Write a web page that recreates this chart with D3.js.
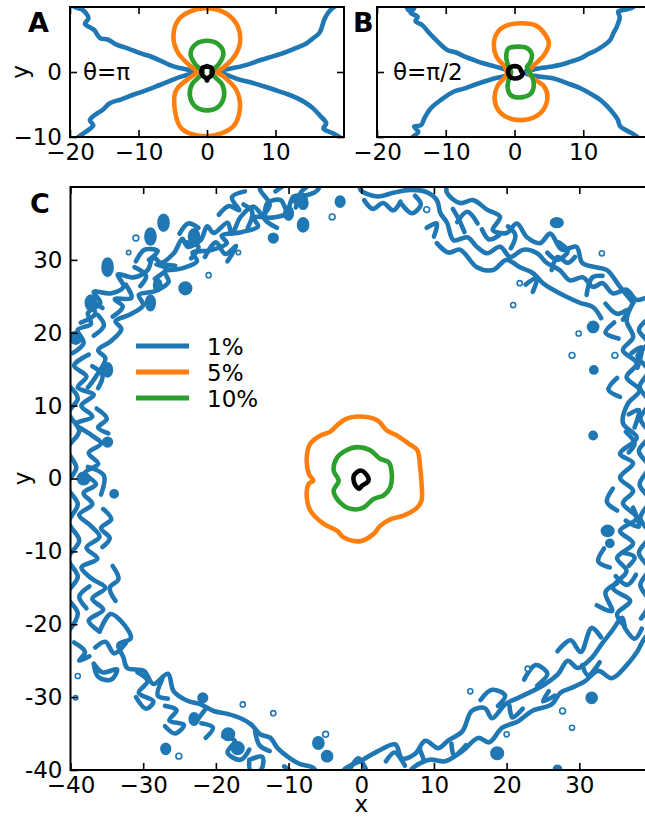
<!DOCTYPE html>
<html>
<head>
<meta charset="utf-8">
<script src="https://cdn.jsdelivr.net/npm/d3@7"></script>
<style>
  body { margin: 0; background: #fff; }
  svg { font-family: "DejaVu Sans", sans-serif; }
</style>
</head>
<body>
<svg id="fig" width="645" height="817"></svg>
<script>
// ---- data (data units) ----
var levelNames = ["1%", "5%", "10%"];
var levelColors = ["#1f77b4", "#ff7f0e", "#2ca02c"];

var ticksAB = [-20, -10, 0, 10];
var ticksAy = [-10, 0];
var ticksC = [-40, -30, -20, -10, 0, 10, 20, 30];

// panel A, theta = pi
var aBlue = [
  [[-20.5,10.6],[-18.8,9.8],[-18.2,9.6],[-17.3,8.3],[-17.8,7.4],[-16.5,6.5],[-15.6,5.2],[-14.5,5],[-13.2,4.2],[-11.5,3.6],[-9.8,2.9],[-8.5,2.5],[-6.9,1.8],[-5.5,1.1],[-4,0.6],[-2.5,0.3],[-1.5,0.05],[-2.5,-0.3],[-4,-0.8],[-5.5,-1.4],[-6.9,-2],[-8.8,-2.8],[-10.8,-3.5],[-12.5,-4.2],[-14.2,-4.8],[-15.2,-5.8],[-16.1,-6.4],[-17.1,-7.4],[-16.6,-8.2],[-17.3,-8.9],[-18.8,-10],[-19.6,-10.8]],
  [[19.5,10.6],[18.3,9.8],[17.6,9],[17.1,8],[16.8,7],[16.4,6],[15.5,5.2],[14.5,4.4],[13,3.7],[11.6,3.1],[9.6,2.4],[7.7,1.8],[5.8,1.1],[3.8,0.6],[2.4,0.3],[1.6,0.05],[2.4,-0.25],[3.5,-0.7],[4.8,-1.2],[6.7,-1.7],[8.6,-2.3],[10.3,-2.9],[12,-3.5],[13.3,-4.1],[14.5,-4.8],[15.5,-5.6],[16.4,-6.6],[17.4,-7.9],[17,-8.7],[18.3,-9.4],[19.3,-10],[20,-10.6]]
];
var aOrange = [[0,9.8],[2.8,9],[4.5,7],[4.8,4.4],[4,2.4],[2.3,0.6],[1.4,0],[2.3,-0.6],[4.3,-2.8],[4.8,-5.7],[3.8,-8.4],[0,-9.9],[-3.7,-8.7],[-4.7,-5.8],[-4.5,-2.8],[-2,-0.5],[-1.4,0],[-2.3,0.8],[-4.2,2.9],[-4.9,5.4],[-4.2,8],[-2.5,9.3]];
var aGreen = [[0,4.8],[1.6,4.3],[2.4,2.9],[1.8,1.3],[0.8,0.3],[0.6,0],[1.1,-0.7],[2.2,-1.9],[2.5,-3.6],[1.7,-5.3],[0,-5.9],[-1.7,-5.3],[-2.5,-3.6],[-2.2,-1.9],[-1.1,-0.7],[-0.6,0],[-0.8,0.3],[-1.8,1.3],[-2.4,2.9],[-1.6,4.3]];
var aBlack = [[0,0.9],[0.65,0.65],[0.85,0],[0.6,-0.6],[0.15,-0.95],[0,-1.3],[-0.15,-0.95],[-0.6,-0.6],[-0.85,0],[-0.65,0.65]];

// panel B, theta = pi/2
var bBlue = [
  [[-15.8,10.6],[-15.4,9.5],[-14.6,9.8],[-15.1,9.1],[-14.1,8.5],[-14.4,7.8],[-13.4,7.2],[-12.4,6],[-11.2,4.7],[-9.8,3.4],[-8.5,3],[-7.3,2.4],[-5.8,1.8],[-4.4,1.3],[-3,0.9],[-2,0.6],[-0.8,0.2],[-0.5,0],[-0.8,-0.4],[-3,-1],[-4.5,-1.5],[-5.9,-2],[-7.5,-2.6],[-8.8,-3],[-10.7,-4.3],[-12.2,-5.6],[-13.1,-7.1],[-13.6,-8.2],[-14.6,-8.4],[-14,-9.2],[-14.8,-10],[-15.2,-10.6]],
  [[17.6,10.6],[17.3,10],[16.2,9.6],[15.1,9.3],[15.3,8.4],[14.9,7],[14.4,6],[13.9,4.9],[12,3.4],[10.8,2.8],[9.6,2.1],[8.2,1.6],[6.7,1.1],[5.2,0.8],[3.8,0.6],[2.6,0.35],[1.8,0.2],[1.5,0],[1.8,-0.3],[3.5,-0.7],[5.7,-1],[7.6,-1.7],[9.6,-2.5],[11,-3.3],[12.5,-4.3],[13.5,-5.3],[14.4,-6.4],[15,-7.3],[15.4,-8.4],[16.5,-9.1],[17.5,-9.7],[18.5,-10.6]]
];
var bOrange = [[0.9,7.5],[3,7.2],[4.3,6],[5,4.4],[4.3,2.6],[2.8,1],[2.1,0],[2.8,-1],[4.3,-2.2],[4.8,-3.8],[4.2,-5.8],[2.8,-7],[0.9,-7.4],[-1,-7],[-2.4,-5.8],[-2.9,-3.8],[-2.4,-2],[-1.3,-0.7],[-1.1,0],[-1.4,0.8],[-2.6,2.3],[-3,4.4],[-2.4,6.2],[-1,7.2]];
var bGreen = [[-0.9,3.6],[0.5,3.9],[1.8,3.7],[2.5,2.8],[2.3,1.5],[1.8,0.8],[2,0.3],[2.6,-0.8],[2.8,-2.2],[2.4,-3.3],[1,-3.9],[-0.5,-3.6],[-1,-2.4],[-0.8,-1],[-0.5,0],[-1,1.2],[-1.2,2.5]];
var bBlack = [[0,0.9],[0.7,0.7],[1,0.1],[1.2,-0.3],[0.8,-0.8],[0,-1],[-0.7,-0.7],[-0.95,0],[-0.7,0.65]];

// panel C, all orientations
var cOrange = [[-0.6,8.5],[2.2,8],[3.5,6.6],[4.9,5.9],[6.5,4.8],[7.7,3.9],[8.1,1.6],[8.3,-0.7],[8.3,-3],[7.7,-4],[5.8,-5.1],[4,-5.6],[2.6,-6.5],[1.7,-7.6],[-0.1,-8.6],[-2.4,-8.1],[-3.3,-7.2],[-5.2,-6.2],[-7,-4.4],[-7.5,-2.6],[-7.2,-0.7],[-6.6,-0.3],[-7.2,0.6],[-7.5,2.9],[-7,4.8],[-5.6,5.9],[-4.3,6.4],[-3.1,7.5],[-2,8.2]];
var cGreen = [[-0.6,4.3],[1.2,3.9],[2.6,2.7],[3.8,2.2],[4.2,0.6],[4,-1.2],[3.1,-2.3],[1.7,-2.8],[0.3,-4],[-1.3,-4.2],[-2.9,-3.3],[-3.8,-1.7],[-3.1,-0.3],[-3.8,1.1],[-3.3,2.9],[-2,3.9]];
var cBlack = [[-0.1,1.1],[0.8,0.4],[1,-0.3],[0.1,-1],[-0.3,-1.4],[-0.6,-1.2],[-1,-0.5],[-1,0.4]];

var ringTopLeft = [
  [[-39.7,17.2],[-38.2,18.6],[-39,20.4],[-37.2,21.2],[-37.6,22.7],[-35.9,24.1],[-36.8,25.6],[-34.5,25.4],[-32.7,26.3],[-33.5,28],[-31.3,27.6],[-29.4,28.6],[-28.6,30.4],[-27.6,29.6],[-25.8,30.9],[-24.6,32.9],[-23.9,31.8],[-22.1,32.7],[-21.2,34.6],[-20.3,33.7],[-18.4,35.1],[-17.8,33.6],[-16.6,35.9],[-14.8,37.3],[-13.5,36.1],[-12.9,37.8],[-11.1,38.2],[-10.2,36.8],[-9.3,38.7],[-7.4,38.9],[-6,39.6],[-5.5,41]],
  [[-37.6,12.5],[-36.5,14],[-35.2,16.5],[-36.2,17.6],[-34.5,18.8],[-33,20.5],[-33.8,21.6],[-31.8,22.5],[-30,23.8],[-30.6,25.2],[-28.4,25.7],[-26.5,27],[-27,28.4],[-24.8,28.8],[-22.6,29.8],[-23.2,31],[-20.8,31.3],[-18.5,32.3],[-19.2,33.3],[-16.5,33.8],[-14.2,34.6],[-14.8,35.8],[-12.3,35.8],[-10,36.3]],
  [[-34.2,22.2],[-32.8,23.6],[-33.9,24.6],[-31.6,24.8],[-32.4,26.6]],
  [[-28.4,27.4],[-26.8,28.8],[-28.2,29.4],[-25.6,29.2]],
  [[-21.5,30.4],[-20,32.4],[-18.7,30.8],[-17.2,31.9],[-18.4,29.8]],
  [[-38.6,21.4],[-36.6,22.6],[-37.4,24.4],[-35.6,23.4]],
  [[-31,29.8],[-29.8,31.4],[-28,31.2],[-29.2,30]],
  [[-25,33.6],[-23.8,35],[-22.4,34.4]],
  [[-19.6,36.2],[-18.2,37.4],[-16.8,36.8],[-17.8,38.6],[-16,39.4]],
  [[-13.9,40.4],[-13.9,39.6],[-12.6,37.6],[-13.4,35.8],[-11.6,34.4]],
  [[-11.8,39.4],[-10.4,40.4]],
  [[-36.8,19.6],[-35.4,21],[-36.2,22.4]],
  [[-30.4,26.4],[-29.6,27.8],[-31.2,29]],
  [[-23.4,30.2],[-22.4,31.8],[-24,32.4]],
  [[-15.6,34.4],[-15,36.6],[-16.2,37.6]],
  [[-9,37.2],[-8.2,39.4],[-6.8,40.4]]
];
var ringTopRight = [
  [[-0.1,40.5],[-0.1,39.6],[2.2,38.7],[4.4,39.2],[6.7,39.6],[9,39.3],[10.4,38.2],[10.9,36.4],[11.8,35.1],[12.7,32.7],[14.6,33.1],[15.9,31.8],[17.3,30.9],[19.1,31.8],[20.5,30.4],[22.3,31.4],[24.2,30.9],[25.5,29.6],[27.3,28.6],[28.7,27.2],[30.5,27.6],[31.9,26.3],[33.2,26.8],[34.6,25.4],[36.5,25.9],[37.9,24.5],[39.5,24.8],[40.5,23.5]],
  [[11.8,40.4],[11.8,39.2],[13.6,37.8],[15.4,38.2],[17.3,36.9],[19.1,35.9],[18.1,34.1],[20,33.7],[21.4,35],[22.8,33.1],[24.6,32.3],[26,33.6],[27.6,31.4],[29.6,31.8],[30.4,29.6],[32.2,29],[33.8,28.6],[35.6,26.3],[37.4,24.1]],
  [[10.4,32.3],[12,31],[13.6,31.4],[15.9,29],[18.1,28.6],[20,30],[21.8,29],[23.6,28.2],[25,26.8],[26.4,25.9],[28.3,24.9],[30.1,24.1],[31.9,23.5],[33,22]],
  [[0.4,38.2],[1.6,37],[3,37.8],[4.4,36.8],[5.4,38]],
  [[5.6,37.6],[7,36.4],[8.2,37.6],[7.4,38.8]],
  [[13.2,35.2],[14.6,36.6],[16,35]],
  [[16.6,34.2],[17.6,32.8],[19,33.4]],
  [[22.6,26.6],[24.2,27.6],[23.6,25.6]],
  [[25.6,31],[27,30],[28.4,31.2],[27.2,32.4]],
  [[33.6,24],[35.2,22.6],[36.8,23.2],[36,21.8]],
  [[14.2,33.8],[13.4,35.6],[12.6,37]],
  [[20.6,31.6],[21.2,33.4],[20.2,34.6]],
  [[26.2,28.6],[27,30.4],[28.4,29.6],[29.4,30.4]],
  [[31,25.2],[31.8,27.6],[33.2,27.8]],
  [[9,34.4],[10.4,35],[10,33.2]]
];
var ringRight = [
  [[37.4,24.1],[36.5,21.7],[37.4,19.4],[36,17.6],[37.9,15.8],[36.5,13.9],[38.3,12.1],[36.7,10.3],[36,7.6],[37.9,5.6],[35.6,3.4],[37.4,2.1],[35.6,0.1],[37.4,-1.7],[36,-3.4],[37.9,-5.4],[35.6,-7.2],[37.4,-8.9],[35.2,-10.9],[36.5,-12.7],[34.6,-15],[37,-16.8],[35.2,-18.6],[36.2,-20.2]],
  [[39.6,22],[38.2,20.4],[39.4,18.6],[38,16.8],[39.5,14.8],[38.3,12.6],[39.6,10.4],[38.4,8.2],[39.7,6],[38.2,3.8],[39.5,1.6],[38.3,-0.8],[39.6,-3],[38.4,-5.4],[39.7,-7.8],[38.2,-10.2],[39.5,-12.4],[38.4,-14.6],[39.6,-17],[38.5,-19.2]],
  [[34.8,21.4],[33.6,20],[35.4,19.2]],
  [[35.2,13.8],[34,12.2],[35.6,11.2]],
  [[34.6,-1.4],[33.8,-3.2],[35.2,-4.4]],
  [[33.4,-9.6],[32.6,-11.4],[34.2,-12.2]],
  [[36.4,6.4],[37.6,4.8],[36.8,3.6]],
  [[35,-13.4],[36.6,-14.6],[37.8,-13.2]],
  [[36.2,-20.4],[37.6,-22],[38.6,-20.6]],
  [[37.2,17.2],[38.6,18],[38,15.2]],
  [[36.8,8.8],[38.2,9.4],[37.6,7]],
  [[36.4,-5.8],[38.2,-6.6],[37.4,-4]],
  [[36,-10.2],[37.6,-10.8],[36.8,-12]]
];
var ringBottomRight = [
  [[36.2,-20.2],[35.9,-19.1],[34.5,-20.9],[33.1,-22.7],[31.7,-24.6],[29.8,-26],[28.4,-25],[27.1,-26.8],[25.3,-28.2],[23.5,-29.2],[21.6,-30.1],[19.8,-31],[18,-32.9],[17,-31.5],[15.2,-31.9],[13.9,-34.7],[11.9,-36],[10.6,-37],[8.8,-36],[7.4,-37.8],[5.6,-38.4],[4.7,-36.5],[2.3,-37.4],[0.2,-38.6],[-2.2,-39.8],[-2.8,-40.6]],
  [[40.5,-20.5],[39,-21.9],[38,-23.7],[36.7,-25.4],[34.5,-27.4],[32.6,-26.4],[30.8,-27.8],[29,-28.7],[27.4,-29.4],[26.2,-31],[23.5,-31.9],[21.6,-33.3],[19.4,-34.2],[17.6,-36.2],[16.1,-35.6],[13.9,-37.4],[11.5,-38.8],[9.4,-38.6],[7,-39.8],[6.6,-40.6]],
  [[16.4,-30.4],[18,-29],[19.8,-29.8],[18.8,-31.2]],
  [[22.4,-27.6],[24,-25.6],[25.6,-26.8],[24.2,-28.4]],
  [[27,-23.7],[28.8,-22.2],[30.2,-23.8],[31.7,-20.5],[33,-21.8]],
  [[32.4,-17.4],[34.5,-18.2],[33.6,-15.6],[35.2,-14.4]],
  [[3.4,-38.8],[4.6,-37.6],[6,-39.4]],
  [[-1.4,-39.6],[-0.4,-38.4],[0.6,-39.8]],
  [[30.4,-25.6],[31.2,-27],[32.8,-25.2]],
  [[25.8,-29.2],[25,-30.6],[26.6,-29.8]],
  [[20.4,-31.2],[20.8,-32.8],[22.2,-31.6]],
  [[12.4,-36.4],[12.8,-38],[14.4,-36.6]],
  [[8,-37],[8.6,-38.6]]
];
var ringBottomLeft = [
  [[-36,-21],[-34.5,-18.6],[-33.2,-19.4],[-31.7,-21.9],[-33.4,-22.8],[-32.7,-24.6],[-32.2,-26],[-29.9,-26.4],[-28.6,-28.2],[-26.6,-26.8],[-25.8,-29.2],[-23.9,-30.5],[-22.1,-31],[-20.3,-31.9],[-18.4,-32.3],[-16.6,-32.9],[-15.2,-33.7],[-13.9,-35.1],[-12.5,-35.6],[-11.5,-37],[-9.8,-38.4],[-8.4,-39.2],[-6.6,-39.7],[-5.8,-41]],
  [[-36.8,-25.4],[-35.6,-26.6],[-33.6,-26.2],[-34.4,-27.6],[-36.2,-27.2],[-36.8,-25.4]],
  [[-30.8,-26.6],[-29.4,-27.8],[-30.6,-29.4],[-28.6,-30.6],[-29.6,-31.6],[-31,-30]],
  [[-27,-31.2],[-25.4,-31.8],[-26.4,-33.2],[-24.4,-33.8],[-25.6,-35],[-27,-34]],
  [[-22,-33.6],[-20.4,-34.2],[-21.4,-35.6]],
  [[-19,-35.4],[-17.4,-36],[-18.4,-37.6],[-16.6,-38.6],[-15.4,-37.2]],
  [[-15.4,-38.6],[-13.6,-38.2],[-13.8,-40],[-15.2,-40.2],[-15.4,-38.6]],
  [[-10.6,-39.5],[-9.4,-40.4]],
  [[-39.5,-22.5],[-38,-23.8],[-38.8,-25],[-37.4,-24.4]],
  [[-32.4,-22.6],[-34,-24],[-35.2,-22.4],[-36.6,-23.2]],
  [[-27.4,-27.6],[-28,-29.8],[-26.6,-30.2]],
  [[-21.4,-31.6],[-22.6,-33.2]],
  [[-14.6,-34.6],[-14,-36.6],[-12.6,-37.4]]
];
var ringLeft = [
  [[-37.5,17],[-39.5,15.5],[-37.8,14],[-39,12.5],[-36.8,11.5],[-38.5,10],[-37,8.5],[-39.2,7.5],[-37.2,6],[-35.8,4.8],[-37.5,3.5],[-36.2,2],[-38,0.8],[-36.5,-0.8],[-38.2,-2],[-37,-3.5],[-38.8,-5],[-37.2,-6.5],[-36,-8],[-37.8,-9.5],[-36.3,-11],[-38.5,-12.2],[-37,-13.8],[-35.2,-15],[-37,-16.5],[-35.5,-18],[-37.5,-19.5],[-36,-21]],
  [[-40.5,13],[-39,11],[-40.2,9],[-38.8,6.5],[-40.4,4],[-39.2,1.5],[-40.5,-1],[-39,-3.5],[-40.2,-6],[-38.8,-8.5],[-40.3,-11],[-39,-13.5],[-40.5,-16],[-39,-18.5],[-40.3,-21]],
  [[-36.4,9.6],[-35,8.2],[-36.2,7],[-34.8,6.2]],
  [[-35.5,-4.2],[-34.4,-5.6],[-35.8,-6.8],[-34.6,-8.2],[-35.6,-9.4]],
  [[-34.2,-12],[-33.4,-13.8],[-34.6,-15],[-33.8,-16.8]],
  [[-37,15.4],[-35.6,14.2],[-36.2,12.4]],
  [[-37.6,1.6],[-35.4,0.4],[-35.8,-2.2]],
  [[-37.4,-14.8],[-38.8,-16.2],[-37.8,-17.8]]
];
// small closed islands of the 1% contour: x, y, rx, ry
var ringIslands = [
  [-31,33,0.4,0.4],[-32,31,0.3,0.3],[-29,33.2,0.7,1.1],[-34.9,29,0.7,1.2],[-27.2,35.1,0.7,1.1],[-23,33.2,0.7,1],
  [-21,27.9,0.35,0.35],[-24.2,26.1,0.8,0.8],[-29,24.1,0.6,1],[-28,26.5,0.5,0.8],[-16.9,31,0.3,0.3],[-12.1,33,0.6,0.6],
  [-8,37.8,0.6,0.8],[-8,34.8,0.7,0.9],[-37.2,24.1,0.7,1],[-39.3,19.3,0.8,0.8],[-34.9,14.9,0.6,0.9],[-34.9,5,0.6,0.6],
  [-8.4,38.2,0.9,0.7],[-10,36.4,0.6,0.9],[-2.9,38,0.6,0.7],[-4,35.9,0.4,0.4],
  [9,36.9,0.4,0.4],[26.9,35.1,0.8,0.6],[33.1,30.9,0.35,0.35],[21.8,26.8,0.35,0.35],[20.9,23.8,0.35,0.35],[31.9,20.8,0.7,0.7],
  [29.9,19.9,0.35,0.35],[29,16.9,0.4,0.4],[34.9,16.9,0.4,0.4],[32,14.9,0.5,0.5],[31.9,5.9,0.5,0.5],[33.9,-7.2,0.8,0.7],[34.2,-8.9,0.5,0.5],
  [22.9,-26.1,0.35,0.35],[15,-29.2,0.35,0.35],[20,-35.1,0.35,0.35],[29,-34.2,0.35,0.35],[27.7,-31.9,0.4,0.4],[18.7,-37.7,0.8,0.8],[27,-39.9,0.5,0.5],[31.7,-30.1,0.7,0.7],
  [-39,-27.1,0.35,0.35],[-39.3,-30.1,0.3,0.3],[-34,-2.1,0.5,0.5],[-38.2,0,0.8,0.8],[-26.9,-37.1,0.6,0.7],[-25.1,-38.1,0.4,0.4],
  [-18.3,-35.1,0.8,0.8],[-17,-37,0.8,0.8],[-12.1,-32.2,0.35,0.35],[-4.9,-35.1,0.4,0.4],[-5.9,-36.3,0.7,0.8],[-4.7,-38.1,0.7,0.7],
  [-16.3,-31,0.35,0.35],[-21.8,-30.1,0.6,0.6],[-23,-33,0.6,0.8]
];

// ---- drawing ----
var svg = d3.select("#fig");
var lw = 4.6;

function makePanel(id, box, xDomain, yDomain, xTicks, yTicks, opts) {
    var x = d3.scaleLinear().domain(xDomain).range([box.left, box.right]);
    var y = d3.scaleLinear().domain(yDomain).range([box.bottom, box.top]);
    var g = svg.append("g");

    g.append("clipPath").attr("id", id)
        .append("rect")
        .attr("x", box.left).attr("y", box.top)
        .attr("width", box.right - box.left).attr("height", box.bottom - box.top);

    var plot = g.append("g").attr("clip-path", "url(#" + id + ")");
    var axes = g.append("g");

    function styleAxis(sel) {
        sel.select(".domain").remove();
        sel.attr("font-size", 23).attr("font-family", "DejaVu Sans");
        sel.selectAll("line").attr("stroke-width", 1.6);
    }

    axes.append("g").attr("transform", "translate(0," + box.bottom + ")")
        .call(d3.axisBottom(x).tickValues(xTicks).tickSizeInner(-7).tickSizeOuter(0).tickPadding(7))
        .call(styleAxis);
    axes.append("g").attr("transform", "translate(0," + box.top + ")")
        .call(d3.axisTop(x).tickValues(xTicks).tickSizeInner(-7).tickSizeOuter(0).tickFormat(""))
        .call(styleAxis);
    axes.append("g").attr("transform", "translate(" + box.left + ",0)")
        .call(d3.axisLeft(y).tickValues(yTicks).tickSizeInner(-7).tickSizeOuter(0).tickPadding(8)
            .tickFormat(opts.yFormat || null))
        .call(styleAxis);
    axes.append("g").attr("transform", "translate(" + box.right + ",0)")
        .call(d3.axisRight(y).tickValues(yTicks).tickSizeInner(-7).tickSizeOuter(0).tickFormat(""))
        .call(styleAxis);

    axes.append("rect")
        .attr("x", box.left).attr("y", box.top)
        .attr("width", box.right - box.left).attr("height", box.bottom - box.top)
        .attr("fill", "none").attr("stroke", "#000").attr("stroke-width", 2);

    return {plot: plot, x: x, y: y};
}

function drawOpen(p, strands, color) {
    var line = d3.line().x(function(d) { return p.x(d[0]); }).y(function(d) { return p.y(d[1]); })
        .curve(d3.curveCatmullRom.alpha(0.5));
    p.plot.selectAll(null).data(strands).enter().append("path")
        .attr("d", line)
        .attr("fill", "none").attr("stroke", color).attr("stroke-width", lw)
        .attr("stroke-linejoin", "round").attr("stroke-linecap", "round");
}

function drawClosed(p, pts, color, curve) {
    var line = d3.line().x(function(d) { return p.x(d[0]); }).y(function(d) { return p.y(d[1]); })
        .curve(curve || d3.curveCatmullRomClosed);
    p.plot.append("path").datum(pts)
        .attr("d", line)
        .attr("fill", "none").attr("stroke", color).attr("stroke-width", lw)
        .attr("stroke-linejoin", "round");
}

var pA = makePanel("clipA", {left: 70, right: 344, top: 7, bottom: 137}, [-20, 20], [-10, 10], ticksAB, ticksAy, {});
var pB = makePanel("clipB", {left: 377, right: 652, top: 7, bottom: 137}, [-20, 20], [-10, 10], ticksAB, ticksAy,
    {yFormat: function() { return ""; }});
var pC = makePanel("clipC", {left: 70.5, right: 652, top: 187, bottom: 770}, [-40, 40], [-40, 40], ticksC, ticksC,
    {yFormat: function(d) { return d < 0 ? "-" + (-d) : String(d); }});

// A
drawOpen(pA, aBlue, levelColors[0]);
drawClosed(pA, aOrange, levelColors[1]);
drawClosed(pA, aGreen, levelColors[2]);
drawClosed(pA, aBlack, "#000", d3.curveLinearClosed);

// B
drawOpen(pB, bBlue, levelColors[0]);
drawClosed(pB, bOrange, levelColors[1]);
drawClosed(pB, bGreen, levelColors[2]);
drawClosed(pB, bBlack, "#000");

// C
var ring = [].concat(ringTopLeft, ringTopRight, ringRight, ringBottomRight, ringBottomLeft, ringLeft);
drawOpen(pC, ring, levelColors[0]);

pC.plot.selectAll(".island").data(ringIslands).enter().append("ellipse")
    .attr("class", "island")
    .attr("cx", function(d) { return pC.x(d[0]); })
    .attr("cy", function(d) { return pC.y(d[1]); })
    .attr("rx", function(d) { return pC.x(d[2]) - pC.x(0); })
    .attr("ry", function(d) { return pC.y(0) - pC.y(d[3]); })
    .attr("fill", function(d) { return d[2] < 0.45 ? "#fff" : levelColors[0]; })
    .attr("stroke", levelColors[0])
    .attr("stroke-width", function(d) { return d[2] < 0.45 ? 1.6 : 2.5; });

drawClosed(pC, cOrange, levelColors[1]);
drawClosed(pC, cGreen, levelColors[2]);
drawClosed(pC, cBlack, "#000");

// legend
var legend = svg.append("g").attr("font-size", 23);
levelNames.forEach(function(name, i) {
    var yy = 346 + i * 26;
    legend.append("line").attr("x1", 136).attr("x2", 189).attr("y1", yy).attr("y2", yy)
        .attr("stroke", levelColors[i]).attr("stroke-width", 5);
    legend.append("text").attr("x", 207).attr("y", yy + 8.5).text(name);
});

// texts
svg.append("text").attr("x", 83).attr("y", 80).attr("font-size", 23).text("θ=π");
svg.append("text").attr("x", 393).attr("y", 80).attr("font-size", 23).text("θ=π/2");

svg.append("text").attr("x", 28).attr("y", 32).attr("font-size", 27).attr("font-weight", "bold").text("A");
svg.append("text").attr("x", 353).attr("y", 32).attr("font-size", 27).attr("font-weight", "bold").text("B");
svg.append("text").attr("x", 30).attr("y", 213).attr("font-size", 27).attr("font-weight", "bold").text("C");

svg.append("text").attr("transform", "translate(28," + pA.y(0) + ") rotate(-90)")
    .attr("text-anchor", "middle").attr("font-size", 23).text("y");
svg.append("text").attr("transform", "translate(30," + pC.y(0) + ") rotate(-90)")
    .attr("text-anchor", "middle").attr("font-size", 23).text("y");
svg.append("text").attr("x", pC.x(0)).attr("y", 812)
    .attr("text-anchor", "middle").attr("font-size", 23).text("x");
</script>
</body>
</html>
